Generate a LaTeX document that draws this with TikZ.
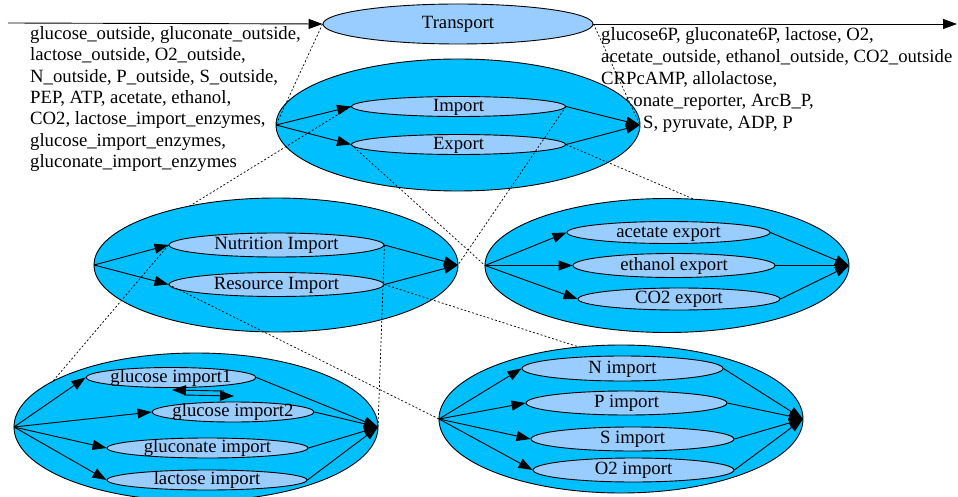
\documentclass[tikz,border=0pt]{standalone}
\usepackage{fontspec}
\setmainfont{Liberation Serif}
\usetikzlibrary{arrows.meta,shapes.geometric}
\definecolor{clus}{RGB}{0,191,255}
\definecolor{procfill}{RGB}{153,204,255}
\begin{document}
\begin{tikzpicture}[x=1pt,y=-1pt,
  font=\fontsize{18.7}{22}\selectfont,
  clusterell/.style={ellipse,draw=black,line width=0.9pt,fill=clus,inner sep=0pt},
  procell/.style={ellipse,draw=black,line width=0.9pt,fill=procfill,inner xsep=-10pt,inner ysep=-4pt,text height=13pt,text depth=3.5pt},
  arr/.style={line width=0.9pt,-{Triangle[length=14pt,width=10pt]}},
  dotline/.style={line width=0.7pt,dash pattern=on 2pt off 2pt},
  txt/.style={anchor=base west,inner sep=0pt}]
\useasboundingbox (0,0) rectangle (958,497);

% ---- text blocks
\node[txt] (l1) at (30,39.3) {glucose\_outside, gluconate\_outside,};
\node[txt] (l2) at (30,60.7) {lactose\_outside, O2\_outside,};
\node[txt] (l3) at (30,82.1) {N\_outside, P\_outside, S\_outside,};
\node[txt] (l4) at (30,103.5) {PEP, ATP, acetate, ethanol,};
\node[txt] (l5) at (30,124.9) {CO2, lactose\_import\_enzymes,};
\node[txt] (l6) at (30,146.3) {glucose\_import\_enzymes,};
\node[txt] (l7) at (30,167.7) {gluconate\_import\_enzymes};

\node[txt] (r1) at (601,40.7) {glucose6P, gluconate6P, lactose, O2,};
\node[txt] (r2) at (601,62.6) {acetate\_outside, ethanol\_outside, CO2\_outside};
\node[txt] (r3) at (601,84.5) {CRPcAMP, allolactose,};
\node[txt] (r4) at (601,106.4) {gluconate\_reporter, ArcB\_P,};
\node[txt] (r5) at (643,128.3) {S, pyruvate, ADP, P};

% ---- top level
\coordinate (in) at (8,23);
\coordinate (out) at (957,24);
\node[procell,minimum width=270,minimum height=40] (T) at (458,24) {Transport};
\draw[arr] (in) -- (T.west);
\draw[arr] (T.east) -- (out);

% ---- source / sink points of the clusters
\coordinate (c0src) at (276,125);  \coordinate (c0snk) at (640,125);
\coordinate (c1src) at (94,265);   \coordinate (c1snk) at (458,265);
\coordinate (c2src) at (485,265.5);\coordinate (c2snk) at (849,265.5);
\coordinate (c3src) at (14,427);   \coordinate (c3snk) at (378,427);
\coordinate (c4src) at (439,419);  \coordinate (c4snk) at (803,419);

% ---- cluster 0
\node[clusterell,minimum width=364,minimum height=132] (C0) at (458,125) {};
\draw[dotline] (T.west) -- (c0src);
\draw[dotline] (T.east) -- (c0snk);
\node[procell,minimum width=214,minimum height=20] (imp) at (458.5,106.5) {Import};
\node[procell,minimum width=214,minimum height=20] (exp) at (458.5,144.5) {Export};
\foreach \n in {imp,exp}{
  \draw[arr] (c0src) -- (\n.west);
  \draw[arr] (\n.east) -- (c0snk);
}
\draw[dotline] (imp.west) -- (c1src);
\draw[dotline] (imp.east) -- (c1snk);
\draw[dotline] (exp.west) -- (c2src);
\draw[dotline] (exp.east) -- (c2snk);

% ---- cluster 1
\node[clusterell,minimum width=364,minimum height=134] (C1) at (276,265) {};
\node[procell,minimum width=215,minimum height=24] (nut) at (276.5,245) {Nutrition Import};
\node[procell,minimum width=215,minimum height=24] (res) at (276.5,284.5) {Resource Import};
\foreach \n in {nut,res}{
  \draw[arr] (c1src) -- (\n.west);
  \draw[arr] (\n.east) -- (c1snk);
}

% ---- cluster 2
\node[clusterell,minimum width=364,minimum height=134] (C2) at (667,265.5) {};
\node[procell,minimum width=203,minimum height=22] (ace) at (668.5,232.5) {acetate export};
\node[procell,minimum width=202,minimum height=24] (eth) at (674,265.5) {ethanol export};
\node[procell,minimum width=202,minimum height=22] (cox) at (679,299) {CO2 export};
\foreach \n in {ace,eth,cox}{
  \draw[arr] (c2src) -- (\n.west);
  \draw[arr] (\n.east) -- (c2snk);
}

\draw[dotline] (nut.west) -- (c3src);
\draw[dotline] (nut.east) -- (c3snk);
\draw[dotline] (res.west) -- (c4src);
\draw[dotline] (res.east) -- (c4snk);

% ---- cluster 3
\node[clusterell,minimum width=364,minimum height=148] (C3) at (196,427) {};
\node[procell,minimum width=170,minimum height=20] (g1) at (171,377.5) {glucose import1};
\node[procell,minimum width=162,minimum height=20] (g2) at (233,412) {glucose import2};
\node[procell,minimum width=201,minimum height=20] (gn) at (207.5,448) {gluconate import};
\node[procell,minimum width=200,minimum height=20] (lac) at (207,480) {lactose import};
\foreach \n in {g1,g2,gn,lac}{
  \draw[arr] (c3src) -- (\n.west);
  \draw[arr] (\n.east) -- (c3snk);
}
\coordinate (g2a) at (224,391);  \coordinate (g1b) at (172,390);
\coordinate (g1c) at (184,395);  \coordinate (g2d) at (234,396);
\draw[arr] (g2a) -- (g1b);
\draw[arr] (g1c) -- (g2d);

% ---- cluster 4
\node[clusterell,minimum width=364,minimum height=148] (C4) at (621,419) {};
\node[procell,minimum width=201,minimum height=25] (ni) at (622.5,368.5) {N import};
\node[procell,minimum width=201,minimum height=24] (pi) at (626.5,403) {P import};
\node[procell,minimum width=203,minimum height=24] (si) at (632.5,439) {S import};
\node[procell,minimum width=201,minimum height=24] (oi) at (633.5,470) {O2 import};
\foreach \n in {ni,pi,si,oi}{
  \draw[arr] (c4src) -- (\n.west);
  \draw[arr] (\n.east) -- (c4snk);
}
\end{tikzpicture}
\end{document}
